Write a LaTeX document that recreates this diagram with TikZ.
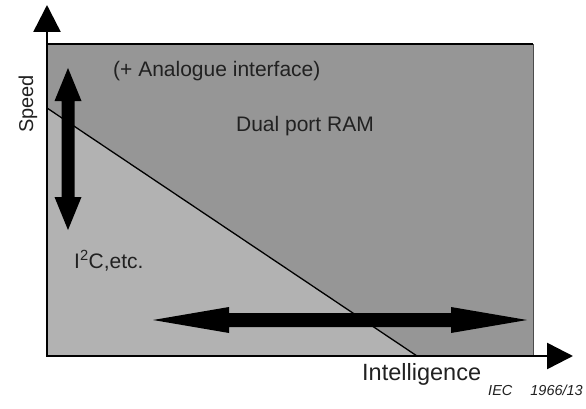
\documentclass[tikz,border=0pt]{standalone}
\usepackage{fontspec}
\setmainfont{Liberation Sans}
\usetikzlibrary{arrows.meta}
\definecolor{darkarea}{gray}{0.59}
\definecolor{lightarea}{gray}{0.70}
\definecolor{labelgray}{gray}{0.13}

\begin{document}
\begin{tikzpicture}[x=1pt, y=1pt,
    lbl/.style={text=labelgray, inner sep=0pt, font=\fontsize{21}{25}\selectfont},
    axis/.style={line width=2.5pt, {Triangle[length=27pt, width=27pt]}-{Triangle[length=26pt, width=26pt]}}]
    \useasboundingbox (0,0) rectangle (586,408);

    \coordinate (O) at (47,52);
    \coordinate (Ytip) at (47,403);
    \coordinate (Xtip) at (573,52);
    \coordinate (TL) at (47,364);
    \coordinate (TR) at (533,364);
    \coordinate (BR) at (533,52);
    \coordinate (Dstart) at (47,300);
    \coordinate (Dend) at (417,52);

    % areas
    \fill[darkarea] (O) rectangle (TR);
    \fill[lightarea] (Dstart) -- (Dend) -- (O) -- cycle;
    \draw[line width=1.3pt] (Dstart) -- (Dend);
    \draw[line width=1pt, black!70] (BR) -- (TR);
    \draw[line width=2.5pt] (TL) -- (TR);

    \draw[axis] (Ytip) -- (O) -- (Xtip);

    % fat double arrows
    \coordinate (Vtop) at (68,340);
    \coordinate (Vbot) at (68,178);
    \coordinate (Hleft) at (153,88);
    \coordinate (Hright) at (527,88);
    \fill (Vtop) -- ++(-13.5,-33) -- ++(7,0) -- ++(0,-96) -- ++(-7,0) -- (Vbot)
        -- ++(13.5,33) -- ++(-7,0) -- ++(0,96) -- ++(7,0) -- cycle;
    \fill (Hleft) -- ++(76,13) -- ++(0,-6) -- ++(222,0) -- ++(0,6) -- (Hright)
        -- ++(-76,-13) -- ++(0,6) -- ++(-222,0) -- ++(0,-6) -- cycle;

    \node[lbl, anchor=base west] (analog) at (113,331) {(+ Analogue interface)};
    \node[lbl, anchor=base] (ram) at (305,277) {Dual port RAM};
    \node[lbl, anchor=base west] (i2c) at (74,140) {I\textsuperscript{2}C,etc.};
    \node[lbl, anchor=base west, font=\fontsize{23.5}{28}\selectfont] (intel) at (362,28) {Intelligence};
    \node[lbl, rotate=90, anchor=base, font=\fontsize{20}{24}\selectfont] (speed) at (33,304) {Speed};
    \node[lbl, anchor=base east, font=\fontsize{14.5}{17}\selectfont\itshape] (iec) at (583,13) {IEC\hspace{18pt}1966/13};
\end{tikzpicture}
\end{document}
